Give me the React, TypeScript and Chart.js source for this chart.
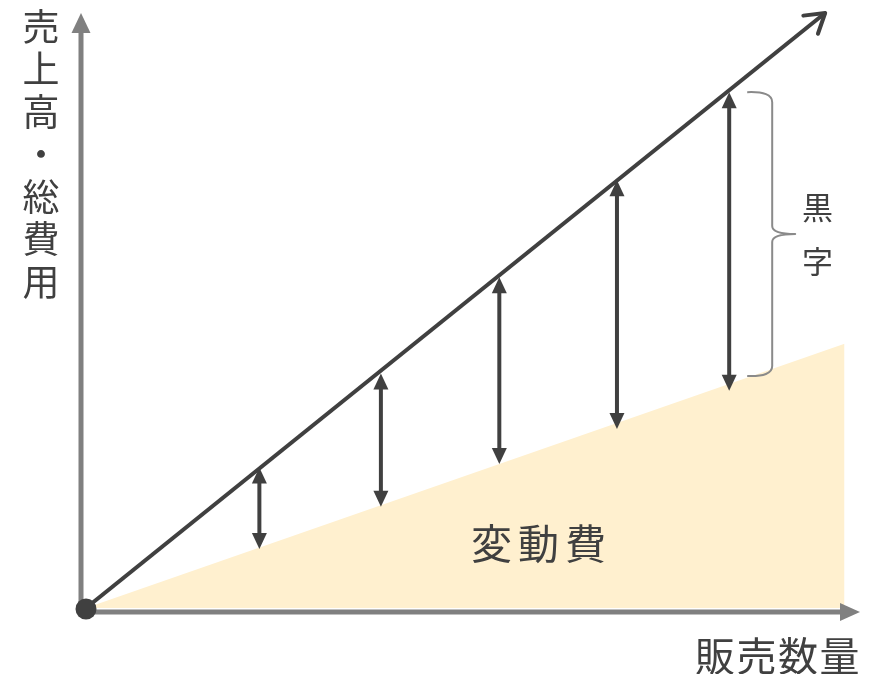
import React, { useEffect, useRef } from "react";
import { Chart, registerables } from "chart.js";

Chart.register(...registerables);

// Conceptual units: x = 販売数量, y = 売上高・総費用
const salesX = [0, 95.5];
const salesY = [0, 100];
const costX = [0, 98];
const costY = [0, 44.4];
const profitX = [22.4, 38.1, 53.4, 68.6, 83.1];
const profitTop = [23.6, 39.4, 55.6, 71.9, 86.7];
const profitBottom = [9.9, 17.0, 24.2, 30.1, 36.5];
// extent of the 黒字 brace (y values)
const braceRange = [86.7, 39.0];

const yAxisLabel = "売上高・総費用";
const xAxisLabel = "販売数量";
const areaLabel = "変動費";
const profitLabel = "黒字";

const DARK = "#404040";
const AXIS = "#808080";
const FILL = "#fff0cf";
const FONT = '"Noto Sans CJK JP", "Noto Sans", sans-serif';

function drawFilledHead(ctx: CanvasRenderingContext2D, tx: number, ty: number, dx: number, dy: number, len: number, half: number) {
  const bx = tx - dx * len;
  const by = ty - dy * len;
  const px = -dy;
  const py = dx;
  ctx.beginPath();
  ctx.moveTo(tx, ty);
  ctx.lineTo(bx + px * half, by + py * half);
  ctx.lineTo(bx - px * half, by - py * half);
  ctx.closePath();
  ctx.fill();
}

const diagramPlugin = {
  id: "diagram",
  afterDatasetsDraw(chart: any) {
    const ctx: CanvasRenderingContext2D = chart.ctx;
    const xs = chart.scales.x;
    const ys = chart.scales.y;
    const ox = xs.getPixelForValue(0);
    const oy = ys.getPixelForValue(0);
    ctx.save();

    // axes
    const axX = ox - 5;
    const axY = oy + 4;
    const xEnd = xs.getPixelForValue(xs.max);
    const yEnd = ys.getPixelForValue(ys.max);
    ctx.strokeStyle = AXIS;
    ctx.fillStyle = AXIS;
    ctx.lineWidth = 5;
    ctx.beginPath();
    ctx.moveTo(axX, axY + 2.5);
    ctx.lineTo(axX, yEnd + 15);
    ctx.stroke();
    drawFilledHead(ctx, axX, yEnd, 0, -1, 20, 9.5);
    ctx.beginPath();
    ctx.moveTo(axX - 2.5, axY);
    ctx.lineTo(xEnd - 15, axY);
    ctx.stroke();
    drawFilledHead(ctx, xEnd, axY, 1, 0, 20, 9);

    // sales line arrowhead (open chevron)
    const sx0 = xs.getPixelForValue(salesX[0]);
    const sy0 = ys.getPixelForValue(salesY[0]);
    const sx1 = xs.getPixelForValue(salesX[1]);
    const sy1 = ys.getPixelForValue(salesY[1]);
    const L = Math.hypot(sx1 - sx0, sy1 - sy0);
    const ux = (sx1 - sx0) / L;
    const uy = (sy1 - sy0) / L;
    ctx.strokeStyle = DARK;
    ctx.lineWidth = 4;
    ctx.lineCap = "round";
    ctx.lineJoin = "round";
    const ang = (32 * Math.PI) / 180;
    const hl = 22;
    ctx.beginPath();
    for (const s of [1, -1]) {
      const c = Math.cos(ang);
      const sn = Math.sin(ang) * s;
      const rx = -(ux * c - uy * sn);
      const ry = -(ux * sn + uy * c);
      ctx.moveTo(sx1, sy1);
      ctx.lineTo(sx1 + rx * hl, sy1 + ry * hl);
    }
    ctx.stroke();

    // profit double arrows
    ctx.fillStyle = DARK;
    ctx.lineCap = "butt";
    for (let i = 0; i < profitX.length; i++) {
      const px = xs.getPixelForValue(profitX[i]);
      const pt = ys.getPixelForValue(profitTop[i]);
      const pb = ys.getPixelForValue(profitBottom[i]);
      ctx.beginPath();
      ctx.moveTo(px, pt + 12);
      ctx.lineTo(px, pb - 12);
      ctx.stroke();
      drawFilledHead(ctx, px, pt, 0, -1, 16, 7.5);
      drawFilledHead(ctx, px, pb, 0, 1, 16, 7.5);
    }

    // brace next to the last arrow
    const li = profitX.length - 1;
    const bt = ys.getPixelForValue(braceRange[0]);
    const bb = ys.getPixelForValue(braceRange[1]);
    const bx0 = xs.getPixelForValue(profitX[li]) + 18;
    const bx1 = bx0 + 25;
    const mid = (bt + bb) / 2;
    const tipx = bx1 + 23;
    ctx.strokeStyle = "#8a8a8a";
    ctx.lineWidth = 2;
    ctx.beginPath();
    ctx.moveTo(bx0, bt);
    ctx.quadraticCurveTo(bx1, bt - 1, bx1, bt + 10);
    ctx.lineTo(bx1, mid - 8);
    ctx.quadraticCurveTo(bx1, mid, tipx, mid);
    ctx.quadraticCurveTo(bx1, mid, bx1, mid + 8);
    ctx.lineTo(bx1, bb - 10);
    ctx.quadraticCurveTo(bx1, bb + 1, bx0, bb);
    ctx.stroke();

    // origin dot
    ctx.fillStyle = DARK;
    ctx.beginPath();
    ctx.arc(ox, oy + 1, 10.5, 0, Math.PI * 2);
    ctx.fill();

    ctx.restore();
  },
};

export default function App() {
  const ref = useRef<HTMLCanvasElement | null>(null);

  useEffect(() => {
    if (!ref.current) return;
    const chart = new Chart(ref.current, {
      type: "line",
      data: {
        datasets: [
          {
            label: areaLabel,
            data: costX.map((x, i) => ({ x, y: costY[i] })),
            fill: "origin",
            backgroundColor: FILL,
            borderWidth: 0,
            borderColor: "rgba(0,0,0,0)",
            pointRadius: 0,
            order: 2,
          },
          {
            label: "売上高",
            data: salesX.map((x, i) => ({ x, y: salesY[i] })),
            fill: false,
            borderColor: DARK,
            borderWidth: 4,
            pointRadius: 0,
            order: 1,
          },
        ],
      },
      options: {
        animation: false,
        responsive: false,
        maintainAspectRatio: false,
        events: [],
        layout: { padding: { left: 86, top: 13, right: 10, bottom: 66 } },
        plugins: {
          legend: { display: false },
          tooltip: { enabled: false },
          title: { display: false },
        },
        scales: {
          x: { type: "linear", min: 0, max: 100, display: false },
          y: { type: "linear", min: 0, max: 100, display: false },
        },
      },
      plugins: [diagramPlugin],
    });
    return () => chart.destroy();
  }, []);

  const textBase: React.CSSProperties = {
    position: "absolute",
    fontFamily: FONT,
    color: DARK,
    lineHeight: 1,
    margin: 0,
    whiteSpace: "nowrap",
  };

  return (
    <div style={{ position: "fixed", left: 0, top: 0, width: 870, height: 674, background: "#fff" }}>
      <canvas ref={ref} width={870} height={674} style={{ width: 870, height: 674, display: "block" }} />
      <div
        style={{
          ...textBase,
          left: 21,
          top: 8,
          width: 38,
          fontSize: 37,
          writingMode: "vertical-rl",
          letterSpacing: "5.5px",
        }}
      >
        {yAxisLabel}
      </div>
      <div
        style={{
          ...textBase,
          left: 801,
          top: 192,
          width: 32,
          fontSize: 31,
          writingMode: "vertical-rl",
          letterSpacing: "23px",
        }}
      >
        {profitLabel}
      </div>
      <div style={{ ...textBase, left: 471, top: 521, fontSize: 41, letterSpacing: "6px" }}>{areaLabel}</div>
      <div style={{ ...textBase, left: 695, top: 634, fontSize: 40, letterSpacing: "1.5px" }}>{xAxisLabel}</div>
    </div>
  );
}
